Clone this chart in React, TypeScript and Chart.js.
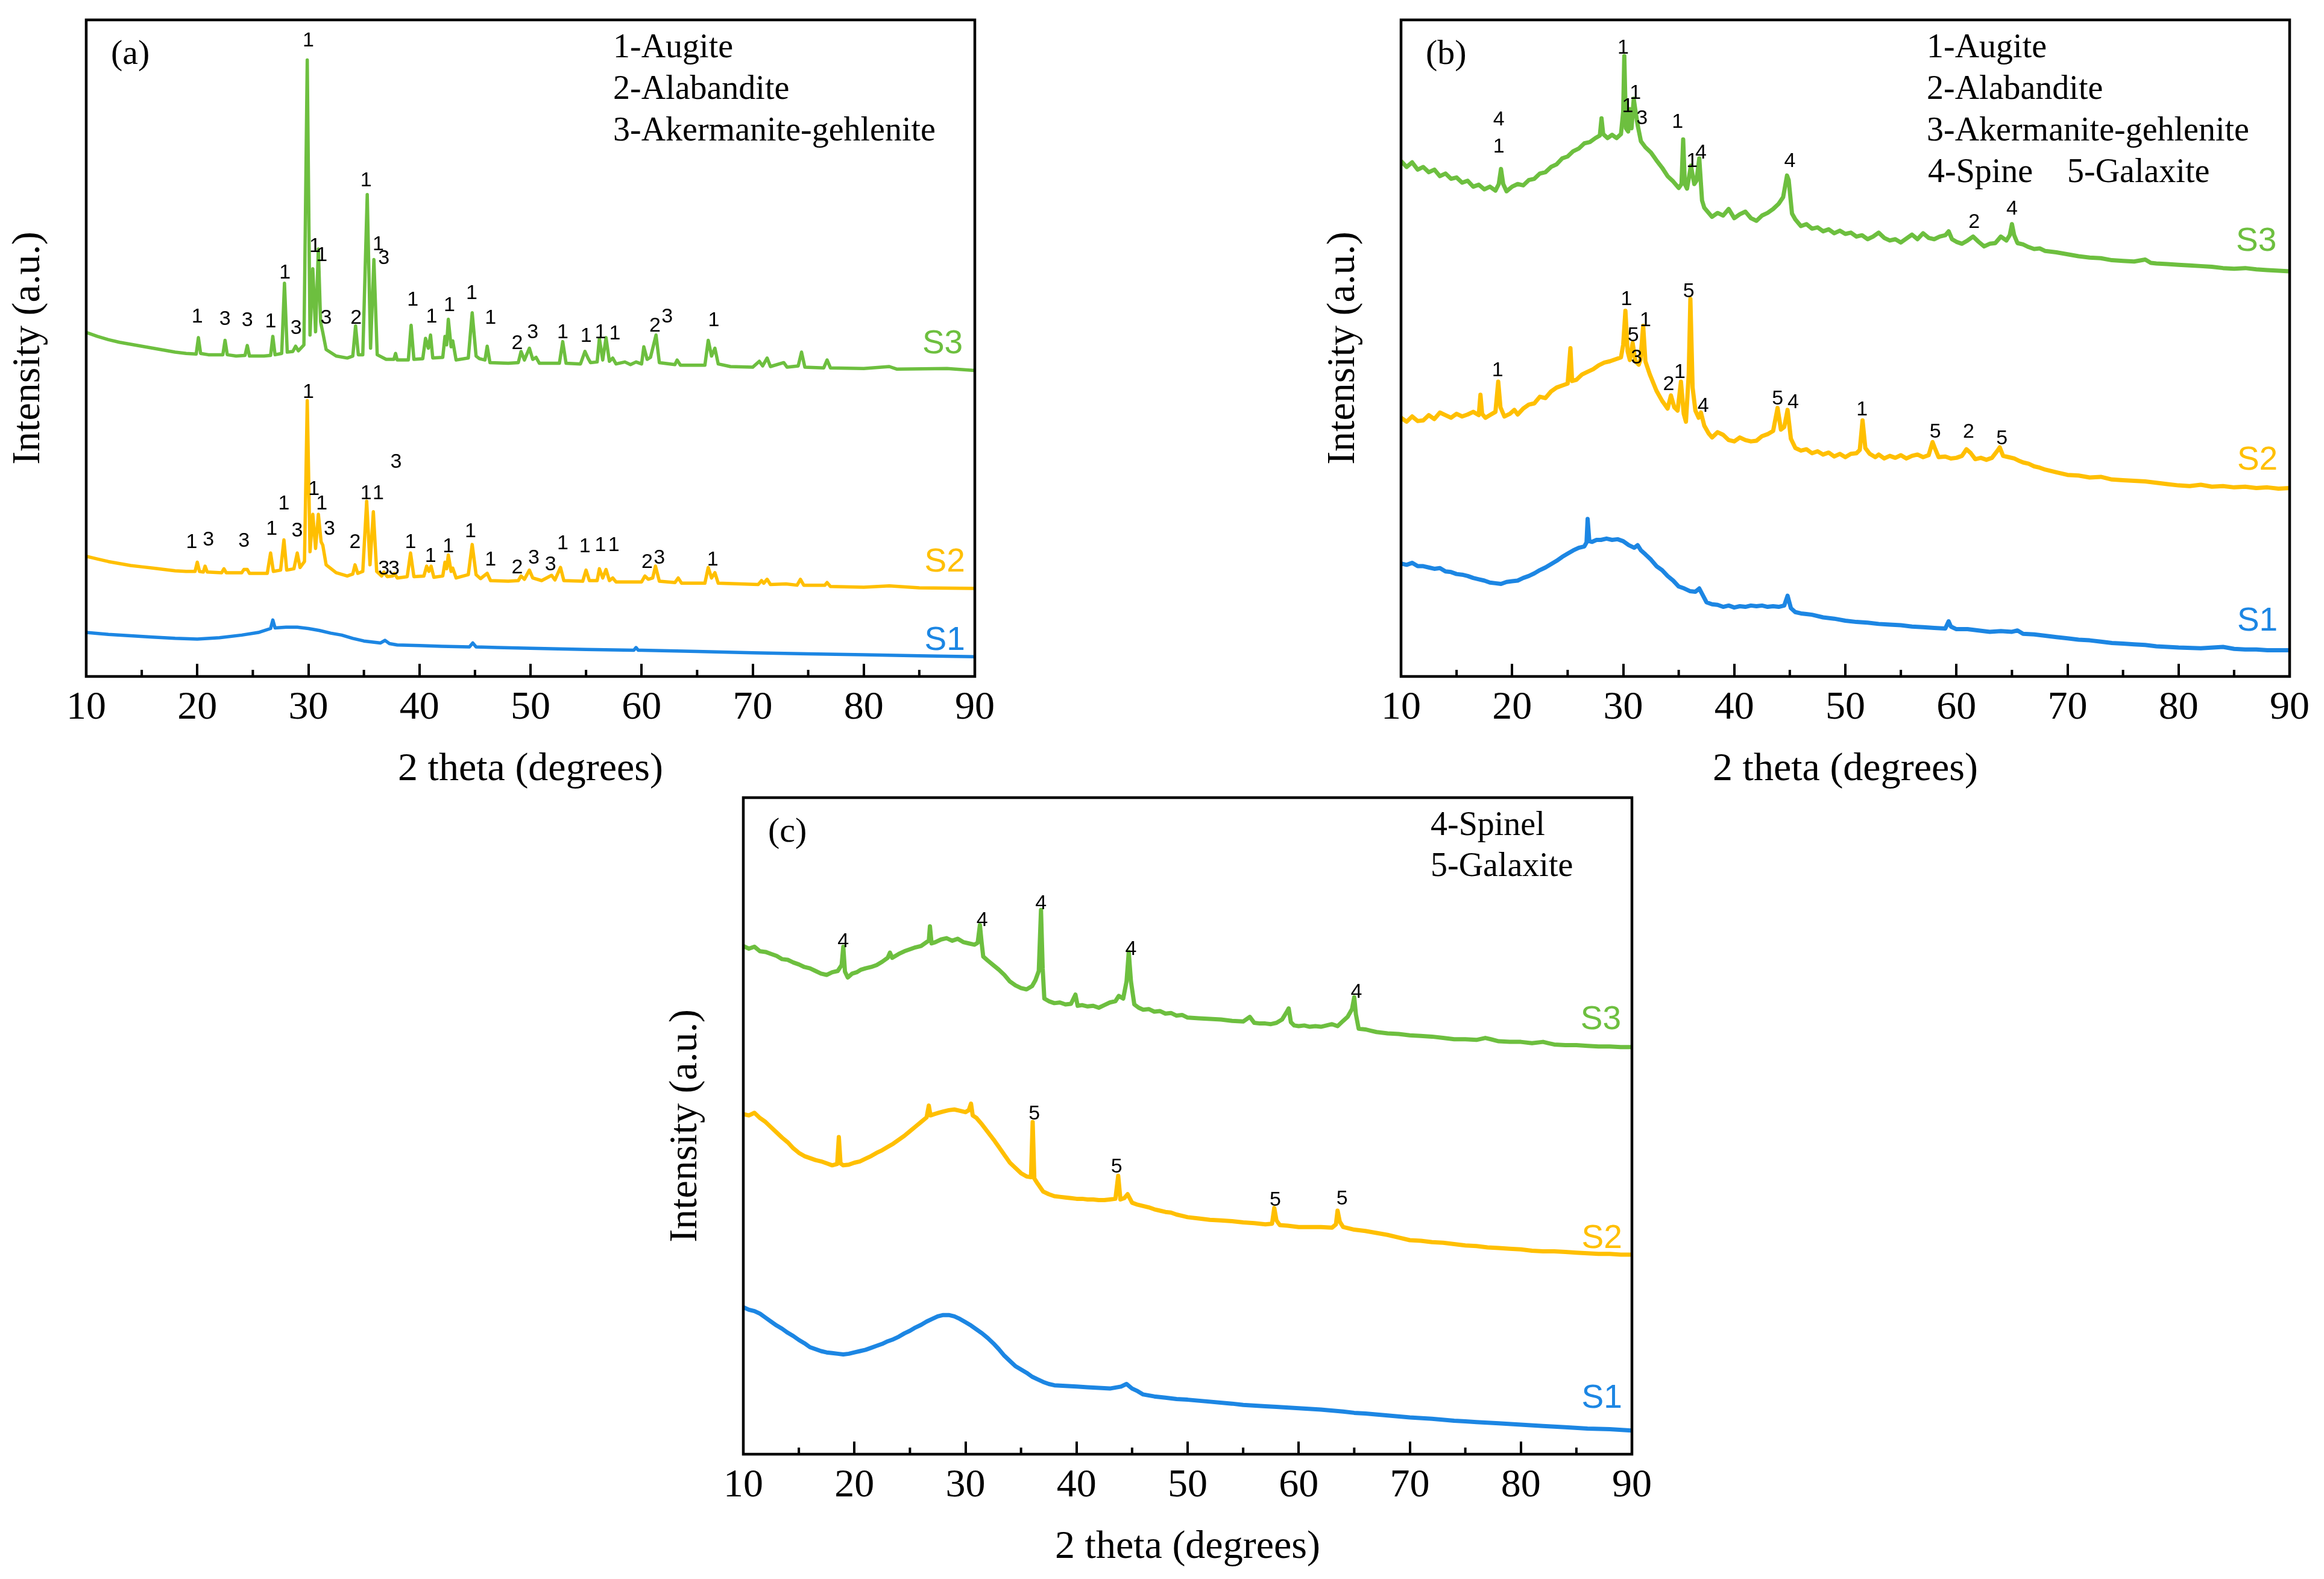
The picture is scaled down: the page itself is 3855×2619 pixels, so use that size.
import React, { useEffect, useRef } from "react";
import { Chart, registerables } from "chart.js";

Chart.register(...registerables);

// ---------------- tick values ----------------
const MAJOR_TICKS = [10, 20, 30, 40, 50, 60, 70, 80, 90];
const MINOR_TICKS = [15, 25, 35, 45, 55, 65, 75, 85];

// ---------------- panel (a) ----------------
const A_S3: number[][] = [
  [10, 52.4], [11, 51.8], [12, 51.3], [13, 50.9], [14, 50.6], [15, 50.3], [16, 50.0], [17, 49.7], [18, 49.4], [19, 49.2],
  [19.9, 49.1], [20.1, 51.6], [20.3, 49.2], [21, 49.0], [22.3, 49.0], [22.5, 51.2], [22.7, 49.0], [23.5, 48.8], [24.3, 48.9],
  [24.5, 50.4], [24.7, 48.8], [26, 48.8], [26.6, 48.9], [26.8, 51.8], [27.0, 49.0], [27.6, 49.2], [27.85, 59.9], [28.1, 49.4],
  [28.6, 49.5], [28.85, 50.3], [29.1, 49.6], [29.6, 50.5], [29.9, 93.9], [30.15, 52.0], [30.4, 62.1], [30.65, 52.5],
  [30.9, 65.1], [31.1, 54.0], [31.3, 52.4], [31.6, 49.8], [32.5, 48.8], [33.5, 48.5], [34.0, 48.8], [34.25, 53.4], [34.5, 49.0],
  [34.9, 49.0], [35.3, 73.4], [35.6, 50.0], [35.9, 63.5], [36.2, 49.0], [37.0, 48.3], [37.7, 48.3], [37.85, 49.2], [38.0, 48.2],
  [39.0, 48.2], [39.25, 53.5], [39.5, 48.3], [40.3, 48.4], [40.55, 51.5], [40.8, 50.0], [41.0, 52.0], [41.2, 48.5], [42.1, 48.6],
  [42.3, 51.8], [42.45, 50.5], [42.6, 54.4], [42.85, 50.2], [43.0, 51.1], [43.3, 48.2], [44.4, 48.5], [44.75, 55.4], [45.1, 48.8],
  [45.4, 48.4], [45.9, 48.2], [46.1, 50.3], [46.35, 47.8], [48.0, 47.7], [48.9, 47.8], [49.15, 49.5], [49.45, 48.2], [49.9, 50.0],
  [50.2, 48.3], [50.5, 48.6], [50.8, 47.7], [52.6, 47.7], [52.9, 51.0], [53.2, 47.7], [54.5, 47.6], [54.9, 49.5], [55.2, 48.4],
  [55.4, 47.8], [56.0, 47.9], [56.2, 51.5], [56.5, 48.2], [56.8, 51.6], [57.1, 48.0], [57.4, 48.5], [57.7, 47.6], [58.5, 47.9],
  [59.0, 47.5], [59.5, 47.9], [60.0, 47.6], [60.2, 50.2], [60.5, 48.3], [60.8, 48.6], [61.3, 52.0], [61.6, 47.8], [63.0, 47.5],
  [63.2, 48.2], [63.5, 47.4], [65.7, 47.4], [66.0, 51.2], [66.3, 48.8], [66.6, 50.0], [66.9, 47.6], [68, 47.2], [70, 47.1],
  [70.6, 48.0], [70.9, 47.3], [71.3, 48.5], [71.6, 47.2], [72.8, 47.8], [73.1, 47.1], [74.1, 47.3], [74.4, 49.4], [74.7, 47.1],
  [76.4, 47.0], [76.7, 48.2], [77.0, 47.0], [80, 46.9], [82.3, 47.2], [83, 46.8], [87.5, 46.9], [90, 46.6],
];
const A_S2: number[][] = [
  [10, 18.3], [11, 17.9], [12, 17.5], [13, 17.2], [14, 16.9], [15, 16.7], [16, 16.5], [17, 16.3], [18, 16.1], [19, 16.0],
  [19.8, 16.0], [20.0, 17.4], [20.2, 16.0], [20.55, 15.9], [20.7, 16.8], [20.9, 15.9], [22.2, 15.8], [22.4, 16.4], [22.6, 15.8],
  [24.0, 15.8], [24.2, 16.3], [24.5, 16.3], [24.7, 15.7], [26.3, 15.7], [26.6, 18.8], [26.85, 16.0], [27.5, 16.2], [27.8, 20.8],
  [28.05, 16.2], [28.7, 16.4], [29.0, 18.8], [29.25, 16.6], [29.65, 17.5], [29.9, 42.0], [30.15, 19.0], [30.4, 24.7],
  [30.65, 19.5], [30.9, 24.7], [31.15, 20.5], [31.3, 20.0], [31.6, 17.0], [32.5, 15.8], [33.5, 15.3], [34.0, 15.6], [34.2, 17.0],
  [34.45, 15.7], [34.9, 16.0], [35.25, 26.7], [35.55, 17.0], [35.85, 25.1], [36.15, 16.0], [36.6, 15.3], [36.8, 15.9],
  [37.1, 15.2], [37.6, 15.3], [37.75, 15.7], [38.0, 15.0], [38.9, 15.2], [39.2, 18.8], [39.5, 15.2], [40.4, 15.3], [40.65, 16.8],
  [40.85, 16.0], [41.05, 16.8], [41.3, 15.1], [42.1, 15.3], [42.3, 17.4], [42.45, 16.4], [42.6, 18.5], [42.85, 16.0], [43.0, 16.5],
  [43.3, 15.0], [44.4, 15.5], [44.75, 20.1], [45.1, 15.5], [45.5, 14.9], [46.1, 15.7], [46.4, 14.6], [48.0, 14.5], [48.9, 14.6],
  [49.15, 15.3], [49.45, 14.8], [49.9, 16.2], [50.2, 15.0], [51.0, 14.6], [51.9, 15.4], [52.2, 14.7], [52.7, 16.6], [53.0, 14.6],
  [54.7, 14.5], [55.0, 16.2], [55.3, 14.6], [56.0, 14.6], [56.2, 16.4], [56.5, 15.0], [56.8, 16.3], [57.1, 14.6], [57.4, 15.0],
  [57.7, 14.4], [60.0, 14.4], [60.3, 15.3], [60.6, 14.8], [61.0, 15.0], [61.25, 16.8], [61.6, 14.5], [63.0, 14.3], [63.3, 15.0],
  [63.6, 14.2], [65.7, 14.2], [66.0, 16.6], [66.3, 15.0], [66.6, 15.8], [66.9, 14.2], [70.5, 14.0], [70.8, 14.6], [71.0, 14.2],
  [71.3, 14.8], [71.6, 14.0], [73.0, 14.1], [74.0, 13.9], [74.3, 14.8], [74.6, 13.9], [76.5, 13.9], [76.7, 14.3], [77.0, 13.7],
  [80, 13.6], [82.3, 13.8], [85, 13.5], [90, 13.4],
];
const A_S1: number[][] = [
  [10, 6.7], [12, 6.4], [14, 6.2], [16, 6.0], [18, 5.8], [20, 5.7], [22, 5.9], [24, 6.3], [25.5, 6.7], [26.6, 7.3], [26.8, 8.6],
  [27.0, 7.4], [28, 7.5], [29, 7.5], [30, 7.3], [31, 7.0], [32, 6.6], [33, 6.3], [34, 5.8], [35, 5.4], [36.5, 5.1], [36.9, 5.5],
  [37.3, 5.0], [38, 4.8], [40, 4.7], [42, 4.6], [44.5, 4.5], [44.8, 5.1], [45.1, 4.5], [47, 4.4], [50, 4.3], [55, 4.1], [59.3, 4.0],
  [59.5, 4.4], [59.7, 4.0], [60, 4.0], [65, 3.8], [70, 3.6], [75, 3.45], [80, 3.3], [85, 3.15], [90, 3.0],
];
const A_MARKS: [number, number, string][] = [
  [20.0, 54.8, "1"], [22.5, 54.4, "3"], [24.5, 54.2, "3"], [26.6, 54.0, "1"], [28.9, 53.0, "3"], [27.9, 61.5, "1"],
  [30.0, 96.8, "1"], [30.6, 65.5, "1"], [31.2, 64.1, "1"], [31.6, 54.6, "3"], [34.3, 54.6, "2"], [35.2, 75.5, "1"],
  [36.3, 65.8, "1"], [36.8, 63.7, "3"], [39.4, 57.3, "1"], [41.1, 54.8, "1"], [42.7, 56.5, "1"], [44.7, 58.3, "1"],
  [46.4, 54.6, "1"], [48.8, 50.7, "2"], [50.2, 52.4, "3"], [52.9, 52.4, "1"], [55.0, 51.8, "1"], [56.3, 52.4, "1"],
  [57.6, 52.2, "1"], [61.2, 53.4, "2"], [62.3, 54.8, "3"], [66.5, 54.2, "1"],
  [19.5, 20.4, "1"], [21.0, 20.8, "3"], [24.2, 20.6, "3"], [26.7, 22.4, "1"], [29.0, 22.2, "3"], [27.8, 26.3, "1"],
  [30.0, 43.3, "1"], [30.5, 28.5, "1"], [31.2, 26.3, "1"], [31.9, 22.4, "3"], [34.2, 20.4, "2"], [35.2, 27.9, "1"],
  [36.3, 27.9, "1"], [37.9, 32.6, "3"], [36.8, 16.4, "3"], [37.7, 16.4, "3"], [39.2, 20.4, "1"], [41.0, 18.3, "1"],
  [42.6, 19.8, "1"], [44.6, 22.1, "1"], [46.4, 17.8, "1"], [48.8, 16.6, "2"], [50.3, 18.0, "3"], [51.8, 17.0, "3"],
  [52.9, 20.2, "1"], [54.9, 19.8, "1"], [56.3, 20.0, "1"], [57.5, 20.0, "1"], [60.5, 17.4, "2"], [61.6, 18.0, "3"],
  [66.4, 17.8, "1"],
];
const A_NAMES: [number, number, string][] = [[87.1, 50.6, "S3"], [87.3, 17.4, "S2"], [87.3, 5.4, "S1"]];
const A_LEGEND = ["1-Augite", "2-Alabandite", "3-Akermanite-gehlenite"];

// ---------------- panel (b) ----------------
const B_S3: number[][] = [
  [10, 78.5], [10.5, 77.6], [11, 78.3], [11.5, 77.2], [12, 77.6], [12.5, 76.8], [13, 77.2], [13.5, 76.2], [14, 76.6], [14.5, 75.8],
  [15, 76.0], [15.5, 75.2], [16, 75.5], [16.5, 74.6], [17, 74.9], [17.5, 74.2], [18, 74.6], [18.5, 74.0], [18.8, 75.0], [19.0, 77.3],
  [19.2, 75.0], [19.5, 73.9], [20, 74.6], [20.5, 75.0], [21, 74.8], [21.5, 75.6], [22, 75.8], [22.5, 76.6], [23, 76.8], [23.5, 77.6],
  [24, 78.0], [24.5, 78.9], [25, 79.2], [25.5, 80.0], [26, 80.4], [26.5, 81.2], [27, 81.4], [27.5, 82.0], [27.9, 82.4], [28.05, 85.0],
  [28.2, 82.6], [28.6, 82.0], [29, 82.5], [29.4, 82.0], [29.8, 82.6], [30.0, 86.0], [30.1, 94.5], [30.25, 83.5], [30.45, 83.0],
  [30.6, 86.4], [30.75, 83.5], [30.95, 88.0], [31.1, 86.2], [31.3, 84.0], [31.6, 81.5], [32, 80.6], [32.5, 79.8], [33, 78.6],
  [33.5, 77.5], [34, 76.2], [34.5, 75.4], [35, 74.4], [35.25, 75.0], [35.4, 81.8], [35.55, 75.0], [35.75, 74.3], [36.1, 77.8],
  [36.4, 75.0], [36.6, 75.5], [36.85, 78.9], [37.1, 72.5], [37.3, 71.4], [37.7, 70.6], [38, 70.0], [38.5, 70.6], [39, 70.2],
  [39.5, 71.2], [40, 69.8], [40.5, 70.4], [41, 70.8], [41.5, 69.8], [42, 69.4], [42.5, 70.2], [43, 70.6], [43.5, 71.2], [44, 72.0],
  [44.4, 73.0], [44.75, 76.3], [44.9, 75.6], [45.2, 70.5], [45.5, 69.6], [46, 68.6], [46.5, 68.9], [47, 68.2], [47.5, 68.4],
  [48, 67.8], [48.5, 68.1], [49, 67.5], [49.5, 67.9], [50, 67.4], [50.5, 67.6], [51, 67.0], [51.5, 67.2], [52, 66.6], [52.5, 67.0],
  [53, 67.6], [53.5, 66.8], [54, 66.4], [54.5, 66.6], [55, 66.1], [55.5, 66.7], [56, 67.3], [56.5, 66.6], [57, 67.5], [57.5, 66.8],
  [58, 66.6], [58.5, 67.0], [59, 67.2], [59.3, 67.8], [59.6, 66.6], [60, 66.2], [60.5, 65.9], [61, 66.4], [61.5, 67.0], [62, 66.2],
  [62.5, 65.5], [63, 65.9], [63.5, 66.0], [64, 67.0], [64.5, 66.4], [64.8, 67.2], [65.0, 68.9], [65.2, 67.2], [65.5, 66.0],
  [66, 65.8], [66.5, 65.4], [67, 65.1], [67.5, 65.2], [68, 64.8], [69, 64.6], [70, 64.3], [71, 64.0], [72, 63.8], [73, 63.7],
  [74, 63.4], [75, 63.3], [76, 63.2], [77, 63.5], [77.5, 63.0], [78, 62.9], [79, 62.8], [80, 62.7], [81, 62.6], [82, 62.5],
  [83, 62.4], [84, 62.2], [85, 62.1], [86, 62.2], [87, 62.0], [88, 61.9], [89, 61.8], [90, 61.7],
];
const B_S2: number[][] = [
  [10, 39.4], [10.5, 38.8], [11, 39.6], [11.5, 38.9], [12, 39.0], [12.5, 39.8], [13, 39.2], [13.5, 40.2], [14, 39.8], [14.5, 39.4],
  [15, 40.0], [15.5, 39.6], [16, 39.9], [16.5, 40.3], [17, 39.8], [17.15, 42.9], [17.3, 40.0], [17.6, 39.4], [18, 39.8],
  [18.5, 40.3], [18.75, 44.9], [18.95, 41.0], [19.3, 39.6], [19.8, 40.0], [20.2, 40.6], [20.5, 39.9], [21, 40.8], [21.5, 41.4],
  [22, 41.6], [22.5, 42.6], [23, 42.4], [23.5, 43.4], [24, 44.0], [24.5, 44.3], [25, 44.6], [25.25, 50.0], [25.4, 45.0],
  [25.8, 45.2], [26.3, 46.0], [26.8, 46.4], [27.3, 46.8], [27.8, 47.4], [28.3, 47.8], [28.8, 48.0], [29.3, 48.3], [29.8, 48.6],
  [30.0, 50.5], [30.2, 55.7], [30.4, 49.5], [30.6, 48.2], [30.85, 50.8], [31.1, 48.0], [31.4, 47.5], [31.55, 48.2], [31.8, 53.4],
  [32.0, 48.0], [32.4, 46.0], [33, 43.5], [33.5, 42.0], [34, 40.8], [34.3, 42.8], [34.6, 41.0], [34.9, 40.5], [35.2, 44.9],
  [35.45, 40.0], [35.65, 38.8], [35.9, 46.0], [36.05, 57.5], [36.25, 44.0], [36.5, 40.5], [36.8, 39.4], [37.0, 40.2], [37.3, 38.2],
  [37.7, 37.0], [38, 36.4], [38.5, 37.2], [39, 36.8], [39.5, 36.0], [40, 35.8], [40.5, 36.4], [41, 36.0], [41.5, 35.8], [42, 35.9],
  [42.5, 36.6], [43, 36.9], [43.5, 37.4], [43.9, 40.9], [44.2, 37.6], [44.5, 38.0], [44.8, 40.6], [45.1, 36.2], [45.5, 34.8],
  [46, 34.4], [46.5, 34.6], [47, 34.0], [47.5, 34.3], [48, 33.8], [48.5, 34.1], [49, 33.5], [49.5, 33.9], [50, 33.4], [50.5, 33.9],
  [51, 34.0], [51.3, 34.5], [51.55, 39.0], [51.8, 34.8], [52.2, 33.9], [52.7, 33.4], [53, 33.8], [53.5, 33.2], [54, 33.6],
  [54.5, 33.3], [55, 33.7], [55.5, 33.2], [56, 33.6], [56.5, 33.8], [57, 33.4], [57.5, 33.7], [57.85, 35.7], [58.1, 34.6],
  [58.4, 33.4], [59, 33.5], [59.5, 33.2], [60, 33.3], [60.5, 33.6], [60.9, 34.6], [61.3, 34.0], [61.7, 33.1], [62.2, 33.3],
  [62.7, 33.0], [63.2, 33.3], [63.7, 34.4], [63.9, 34.9], [64.2, 33.6], [64.7, 33.4], [65.2, 33.2], [65.7, 32.8], [66, 32.6],
  [66.5, 32.4], [67, 32.0], [67.5, 31.8], [68, 31.5], [69, 31.1], [70, 30.7], [71, 30.6], [72, 30.3], [73, 30.4], [74, 30.0],
  [75, 29.9], [76, 29.8], [77, 29.7], [78, 29.5], [79, 29.3], [80, 29.1], [81, 29.0], [82, 29.2], [83, 28.9], [84, 29.0],
  [85, 28.8], [86, 28.9], [87, 28.7], [88, 28.8], [89, 28.6], [90, 28.7],
];
const B_S1: number[][] = [
  [10, 17.2], [10.5, 17.0], [11, 17.3], [11.5, 16.8], [12, 16.8], [12.5, 16.6], [13, 16.4], [13.5, 16.5], [14, 16.0], [14.5, 15.9],
  [15, 15.6], [15.5, 15.5], [16, 15.3], [16.5, 15.0], [17, 14.8], [17.5, 14.6], [18, 14.3], [18.5, 14.2], [19, 14.1], [19.5, 14.4],
  [20, 14.5], [20.5, 14.6], [21, 15.0], [21.5, 15.3], [22, 15.7], [22.5, 16.2], [23, 16.6], [23.5, 17.1], [24, 17.6], [24.5, 18.2],
  [25, 18.7], [25.5, 19.2], [26, 19.6], [26.5, 19.8], [26.7, 20.4], [26.8, 24.0], [26.95, 20.6], [27.2, 20.5], [27.6, 20.8],
  [28, 20.8], [28.5, 21.0], [29, 20.8], [29.5, 20.9], [30, 20.6], [30.5, 20.0], [31, 19.6], [31.3, 20.0], [31.6, 19.2], [32, 18.6],
  [32.5, 17.8], [33, 16.8], [33.5, 16.2], [34, 15.3], [34.5, 14.6], [35, 13.7], [35.5, 13.4], [36, 13.0], [36.5, 12.9],
  [36.85, 13.4], [37.1, 12.6], [37.5, 11.3], [38, 11.0], [38.5, 10.9], [39, 10.6], [39.5, 10.8], [40, 10.5], [40.5, 10.7],
  [41, 10.6], [41.5, 10.8], [42, 10.7], [42.5, 10.8], [43, 10.6], [43.5, 10.7], [44, 10.6], [44.5, 10.8], [44.8, 12.3],
  [45.1, 10.4], [45.5, 9.8], [46, 9.6], [46.5, 9.5], [47, 9.4], [48, 9.0], [49, 8.8], [50, 8.5], [51, 8.3], [52, 8.2], [53, 8.0],
  [54, 7.9], [55, 7.8], [56, 7.6], [57, 7.5], [58, 7.4], [59, 7.3], [59.3, 8.4], [59.5, 7.6], [60, 7.2], [61, 7.2], [62, 7.0],
  [63, 6.8], [64, 6.9], [65, 6.8], [65.5, 7.0], [66, 6.5], [67, 6.4], [68, 6.2], [69, 6.0], [70, 5.8], [71, 5.6], [72, 5.5],
  [73, 5.3], [74, 5.1], [75, 5.0], [76, 4.9], [77, 4.8], [78, 4.6], [79, 4.5], [80, 4.4], [82, 4.3], [84, 4.5], [85, 4.2],
  [86, 4.1], [87, 4.1], [88, 4.0], [90, 4.0],
];
const B_MARKS: [number, number, string][] = [
  [18.8, 84.8, "4"], [18.8, 80.7, "1"], [30.0, 95.7, "1"], [31.1, 88.8, "1"], [30.4, 86.8, "1"], [31.7, 85.0, "3"],
  [34.9, 84.4, "1"], [36.2, 78.5, "1"], [37.0, 79.7, "4"], [45.0, 78.5, "4"], [61.6, 69.2, "2"], [65.0, 71.2, "4"],
  [18.7, 46.6, "1"], [30.3, 57.4, "1"], [30.9, 51.9, "5"], [31.2, 48.5, "3"], [32.0, 54.2, "1"], [34.1, 44.5, "2"],
  [35.1, 46.3, "1"], [35.9, 58.6, "5"], [37.2, 41.2, "4"], [43.9, 42.3, "5"], [45.3, 41.7, "4"], [51.5, 40.6, "1"],
  [58.1, 37.2, "5"], [61.1, 37.2, "2"], [64.1, 36.2, "5"],
];
const B_NAMES: [number, number, string][] = [[87.0, 66.2, "S3"], [87.1, 32.9, "S2"], [87.1, 8.4, "S1"]];
const B_LEGEND = ["1-Augite", "2-Alabandite", "3-Akermanite-gehlenite", "4-Spine", "5-Galaxite"];

// ---------------- panel (c) ----------------
const C_S3: number[][] = [
  [10, 77.4], [10.5, 77.0], [11, 77.3], [11.5, 76.6], [12, 76.5], [12.5, 76.2], [13, 75.9], [13.5, 75.4], [14, 75.3], [14.5, 74.9],
  [15, 74.6], [15.5, 74.2], [16, 74.0], [16.5, 73.6], [17, 73.2], [17.5, 73.0], [18, 73.4], [18.5, 73.6], [18.85, 74.5],
  [19.0, 77.3], [19.15, 73.5], [19.4, 72.6], [19.8, 73.2], [20.2, 73.4], [20.6, 73.8], [21, 74.0], [21.5, 74.2], [22, 74.5],
  [22.5, 75.0], [23, 75.6], [23.2, 76.4], [23.4, 75.6], [24, 76.2], [24.5, 76.6], [25, 76.9], [25.5, 77.2], [26, 77.4],
  [26.5, 78.0], [26.7, 78.2], [26.8, 80.4], [26.95, 77.8], [27.3, 78.0], [27.8, 78.4], [28.3, 78.6], [28.8, 78.2], [29.3, 78.5],
  [29.8, 78.0], [30.3, 77.8], [30.8, 77.6], [31.1, 77.9], [31.3, 80.6], [31.45, 78.0], [31.6, 75.8], [32, 75.2], [32.5, 74.5],
  [33, 73.8], [33.5, 73.0], [34, 72.0], [34.5, 71.4], [35, 71.0], [35.5, 70.8], [36, 71.3], [36.3, 72.2], [36.6, 73.6],
  [36.8, 82.9], [36.95, 74.0], [37.1, 69.4], [37.5, 69.0], [38, 68.7], [38.5, 68.8], [39, 68.5], [39.5, 68.6], [39.9, 70.0],
  [40.1, 68.3], [40.5, 68.4], [41, 68.2], [41.5, 68.3], [42, 68.0], [42.5, 68.4], [43, 68.8], [43.5, 69.0], [43.8, 69.8],
  [44.2, 69.4], [44.5, 72.0], [44.7, 76.5], [44.9, 72.0], [45.2, 68.5], [45.6, 68.0], [46, 67.7], [46.5, 67.8], [47, 67.4],
  [47.5, 67.5], [48, 67.1], [48.5, 67.2], [49, 66.8], [49.5, 66.9], [50, 66.5], [51, 66.4], [52, 66.3], [53, 66.2], [54, 66.0],
  [55, 65.9], [55.6, 66.6], [56, 65.7], [56.5, 65.6], [57, 65.6], [57.5, 65.5], [58, 65.7], [58.5, 66.2], [58.9, 67.3],
  [59.1, 67.9], [59.3, 65.8], [59.6, 65.3], [60, 65.2], [60.5, 65.3], [61, 65.1], [61.5, 65.2], [62, 65.1], [62.5, 65.3],
  [63, 65.5], [63.5, 65.2], [64, 66.0], [64.4, 66.6], [64.8, 67.8], [65.0, 69.6], [65.15, 67.0], [65.4, 64.8], [66, 64.7],
  [66.5, 64.5], [67, 64.3], [68, 64.1], [69, 64.0], [70, 63.8], [71, 63.7], [72, 63.6], [73, 63.4], [74, 63.2], [75, 63.2],
  [76, 63.1], [76.8, 63.4], [77.3, 63.2], [78, 62.9], [79, 62.8], [80, 62.8], [81, 62.6], [82, 62.8], [82.5, 62.6], [83, 62.4],
  [84, 62.3], [85, 62.3], [86, 62.2], [87, 62.1], [88, 62.1], [89, 62.0], [90, 62.0],
];
const C_S2: number[][] = [
  [10, 51.8], [10.5, 51.6], [11, 52.0], [11.5, 51.2], [12, 50.6], [12.5, 49.8], [13, 49.0], [13.5, 48.2], [14, 47.5], [14.5, 46.6],
  [15, 45.9], [15.5, 45.4], [16, 45.1], [16.5, 44.8], [17, 44.6], [17.5, 44.3], [18, 44.0], [18.45, 44.2], [18.6, 48.3],
  [18.75, 44.3], [19, 44.0], [19.5, 44.1], [20, 44.4], [20.5, 44.6], [21, 45.0], [21.5, 45.4], [22, 45.9], [22.5, 46.3],
  [23, 46.8], [23.5, 47.3], [24, 47.9], [24.5, 48.5], [25, 49.2], [25.5, 49.9], [26, 50.6], [26.5, 51.3], [26.7, 53.1],
  [26.85, 51.6], [27.2, 51.8], [27.6, 52.0], [28, 52.2], [28.5, 52.4], [29, 52.5], [29.5, 52.3], [30, 52.1], [30.3, 52.4],
  [30.5, 53.4], [30.65, 51.6], [31, 51.2], [31.5, 50.2], [32, 49.1], [32.5, 48.0], [33, 46.8], [33.5, 45.6], [34, 44.4],
  [34.5, 43.6], [35, 42.8], [35.5, 42.3], [35.9, 42.2], [36.05, 50.6], [36.2, 42.0], [36.5, 41.2], [37, 40.0], [37.5, 39.6],
  [38, 39.3], [38.5, 39.2], [39, 39.1], [39.5, 39.0], [40, 38.9], [40.5, 38.9], [41, 38.8], [41.5, 38.8], [42, 38.7],
  [42.5, 38.7], [43, 38.8], [43.5, 38.9], [43.75, 42.4], [43.95, 38.8], [44.3, 39.0], [44.6, 39.6], [45, 38.3], [45.5, 38.0],
  [46, 37.8], [46.5, 37.6], [47, 37.3], [47.5, 37.1], [48, 36.9], [48.5, 36.8], [49, 36.5], [49.5, 36.3], [50, 36.1], [51, 35.9],
  [52, 35.7], [53, 35.6], [54, 35.5], [55, 35.3], [56, 35.2], [57, 35.0], [57.6, 35.1], [57.8, 37.5], [58.0, 35.6], [58.3, 34.9],
  [59, 34.8], [60, 34.6], [61, 34.6], [62, 34.6], [63, 34.5], [63.35, 35.0], [63.5, 37.1], [63.7, 35.4], [64, 34.6], [65, 34.2],
  [66, 34.0], [67, 33.7], [68, 33.4], [69, 33.0], [70, 32.6], [71, 32.5], [72, 32.3], [73, 32.2], [74, 32.0], [75, 31.8],
  [76, 31.7], [77, 31.5], [78, 31.4], [79, 31.3], [80, 31.2], [81, 31.0], [82, 30.9], [83, 30.9], [84, 30.8], [85, 30.7],
  [86, 30.6], [87, 30.5], [88, 30.5], [89, 30.4], [90, 30.4],
];
const C_S1: number[][] = [
  [10, 22.4], [10.5, 22.0], [11, 21.8], [11.5, 21.4], [12, 20.8], [12.5, 20.2], [13, 19.6], [13.5, 19.1], [14, 18.5], [14.5, 18.0],
  [15, 17.4], [15.5, 16.9], [16, 16.3], [16.5, 16.0], [17, 15.7], [17.5, 15.5], [18, 15.4], [18.5, 15.3], [19, 15.2], [19.5, 15.3],
  [20, 15.5], [20.5, 15.7], [21, 15.9], [21.5, 16.2], [22, 16.5], [22.5, 16.8], [23, 17.2], [23.5, 17.5], [24, 17.9], [24.5, 18.4],
  [25, 18.8], [25.5, 19.3], [26, 19.7], [26.5, 20.2], [27, 20.6], [27.5, 21.0], [28, 21.2], [28.5, 21.2], [29, 21.0], [29.5, 20.6],
  [30, 20.1], [30.5, 19.6], [31, 19.0], [31.5, 18.4], [32, 17.7], [32.5, 16.9], [33, 16.0], [33.5, 15.0], [34, 14.2], [34.5, 13.4],
  [35, 12.9], [35.5, 12.4], [36, 11.8], [36.5, 11.4], [37, 11.0], [37.5, 10.7], [38, 10.5], [39, 10.4], [40, 10.3], [41, 10.2],
  [42, 10.1], [43, 10.0], [44, 10.3], [44.5, 10.7], [45, 10.0], [45.5, 9.6], [46, 9.1], [47, 8.8], [48, 8.6], [49, 8.4], [50, 8.3],
  [52, 8.0], [54, 7.7], [55, 7.5], [57, 7.3], [58, 7.2], [60, 7.0], [62, 6.8], [64, 6.5], [65, 6.3], [66, 6.2], [68, 5.9],
  [70, 5.6], [72, 5.4], [74, 5.1], [75, 5.0], [76, 4.9], [78, 4.7], [80, 4.5], [82, 4.3], [84, 4.1], [86, 3.9], [88, 3.8], [90, 3.6],
];
const C_MARKS: [number, number, string][] = [
  [19.0, 78.1, "4"], [31.5, 81.3, "4"], [36.8, 83.9, "4"], [44.9, 76.9, "4"], [65.2, 70.4, "4"],
  [36.2, 51.8, "5"], [43.6, 43.7, "5"], [57.9, 38.7, "5"], [63.9, 38.9, "5"],
];
const C_NAMES: [number, number, string][] = [[87.2, 66.1, "S3"], [87.3, 32.8, "S2"], [87.3, 8.5, "S1"]];
const C_LEGEND = ["4-Spinel", "5-Galaxite"];

// ---------------- styling ----------------
const GREEN = "#6dbf3f";
const YELLOW = "#ffbf00";
const BLUE = "#1c86e3";
const SERIES_COLORS = [GREEN, YELLOW, BLUE];
const SERIF = "Liberation Serif";
const SANS = "Liberation Sans";

const PAD_RIGHT = 80;
const AREA_RIGHT = 1617;
const AREA_BOTTOM = 1122;
const CW = AREA_RIGHT + PAD_RIGHT;
const CH = 1330;

type PanelCfg = {
  left: number;
  top: number;
  tag: string;
  s3: number[][];
  s2: number[][];
  s1: number[][];
  marks: [number, number, string][];
  names: [number, number, string][];
  legend: { text: string; dx: number; dy: number }[];
  lineWidth: number;
};

const PANELS: PanelCfg[] = [
  {
    left: 0, top: 0, tag: "(a)", s3: A_S3, s2: A_S2, s1: A_S1, marks: A_MARKS, names: A_NAMES, lineWidth: 5.5,
    legend: A_LEGEND.map((t, i) => ({ text: t, dx: 874, dy: 47 + i * 69 })),
  },
  {
    left: 2181, top: 0, tag: "(b)", s3: B_S3, s2: B_S2, s1: B_S1, marks: B_MARKS, names: B_NAMES, lineWidth: 7,
    legend: [
      { text: B_LEGEND[0], dx: 872, dy: 47 },
      { text: B_LEGEND[1], dx: 872, dy: 116 },
      { text: B_LEGEND[2], dx: 872, dy: 185 },
      { text: B_LEGEND[3], dx: 874, dy: 254 },
      { text: B_LEGEND[4], dx: 1105, dy: 254 },
    ],
  },
  {
    left: 1090, top: 1290, tag: "(c)", s3: C_S3, s2: C_S2, s1: C_S1, marks: C_MARKS, names: C_NAMES, lineWidth: 7,
    legend: C_LEGEND.map((t, i) => ({ text: t, dx: 1140, dy: 47 + i * 68 })),
  },
];

function makeDecor(cfg: PanelCfg) {
  return {
    id: "xrdDecor",
    afterDatasetsDraw(chart: any) {
      const { ctx, chartArea: ca, scales } = chart;
      const x = scales.x;
      const y = scales.y;
      ctx.save();
      // frame
      ctx.strokeStyle = "#000";
      ctx.lineWidth = 4.5;
      ctx.strokeRect(ca.left, ca.top, ca.right - ca.left, ca.bottom - ca.top);
      // minor ticks
      ctx.lineWidth = 4;
      for (const v of MINOR_TICKS) {
        const px = x.getPixelForValue(v);
        ctx.beginPath();
        ctx.moveTo(px, ca.bottom);
        ctx.lineTo(px, ca.bottom - 11);
        ctx.stroke();
      }
      // peak marks
      ctx.fillStyle = "#000";
      ctx.textAlign = "center";
      ctx.textBaseline = "middle";
      ctx.font = `34px "${SANS}"`;
      for (const [mx, my, t] of cfg.marks) {
        ctx.fillText(t, x.getPixelForValue(mx), y.getPixelForValue(my));
      }
      // series names
      ctx.font = `55px "${SANS}"`;
      cfg.names.forEach(([nx, ny, t], i) => {
        ctx.fillStyle = SERIES_COLORS[i];
        ctx.fillText(t, x.getPixelForValue(nx), y.getPixelForValue(ny));
      });
      // legend text
      ctx.fillStyle = "#000";
      ctx.textAlign = "left";
      ctx.font = `56px "${SERIF}"`;
      for (const l of cfg.legend) {
        ctx.fillText(l.text, ca.left + l.dx, ca.top + l.dy);
      }
      // panel tag
      ctx.font = `58px "${SERIF}"`;
      ctx.fillText(cfg.tag, ca.left + 41, ca.top + 58);
      ctx.restore();
    },
  };
}

function Panel({ cfg }: { cfg: PanelCfg }) {
  const ref = useRef<HTMLCanvasElement>(null);
  useEffect(() => {
    const toPts = (arr: number[][]) => arr.map(([a, b]) => ({ x: a, y: b }));
    const mk = (label: string, arr: number[][], color: string) => ({
      label,
      data: toPts(arr),
      borderColor: color,
      backgroundColor: color,
      borderWidth: cfg.lineWidth,
      pointRadius: 0,
      fill: false,
      tension: 0,
      borderJoinStyle: "round" as const,
    });
    const chart = new Chart(ref.current as HTMLCanvasElement, {
      type: "line",
      data: {
        datasets: [mk("S1", cfg.s1, BLUE), mk("S2", cfg.s2, YELLOW), mk("S3", cfg.s3, GREEN)],
      },
      options: {
        animation: false,
        responsive: false,
        devicePixelRatio: 1,
        parsing: false as any,
        normalized: true,
        layout: { padding: { left: 0, top: 33, right: PAD_RIGHT, bottom: 0 } },
        plugins: { legend: { display: false }, tooltip: { enabled: false } },
        scales: {
          x: {
            type: "linear",
            min: 10,
            max: 90,
            afterBuildTicks: (s: any) => {
              s.ticks = MAJOR_TICKS.map((v) => ({ value: v }));
            },
            afterFit: (s: any) => {
              s.height = CH - AREA_BOTTOM;
            },
            ticks: {
              autoSkip: false,
              maxRotation: 0,
              minRotation: 0,
              padding: 34,
              color: "#000",
              font: { family: SERIF, size: 66 },
              callback: (v: any) => String(v),
            },
            grid: {
              display: true,
              drawOnChartArea: false,
              drawTicks: true,
              tickLength: -21,
              tickWidth: 4,
              tickColor: "#000",
              color: "#000",
              lineWidth: 4,
            },
            border: { display: false },
            title: {
              display: true,
              text: "2 theta (degrees)",
              color: "#000",
              font: { family: SERIF, size: 66 },
              padding: { top: 0, bottom: 14 },
            },
          },
          y: {
            type: "linear",
            min: 0,
            max: 100,
            afterFit: (s: any) => {
              s.width = 143;
            },
            ticks: { display: false },
            grid: { display: false },
            border: { display: false },
            title: {
              display: true,
              text: "Intensity (a.u.)",
              color: "#000",
              font: { family: SERIF, size: 66 },
              padding: { top: 8, bottom: 0 },
            },
          },
        },
      },
      plugins: [makeDecor(cfg)],
    } as any);
    return () => chart.destroy();
  }, [cfg]);
  return (
    <div style={{ position: "absolute", left: cfg.left, top: cfg.top, width: CW, height: CH }}>
      <canvas ref={ref} width={CW} height={CH} style={{ width: CW, height: CH, display: "block" }} />
    </div>
  );
}

export default function App() {
  return (
    <div
      style={{
        position: "absolute",
        left: 0,
        top: 0,
        width: 3855,
        height: 2619,
        overflow: "hidden",
        background: "#fff",
      }}
    >
      {PANELS.map((p) => (
        <Panel key={p.tag} cfg={p} />
      ))}
    </div>
  );
}
